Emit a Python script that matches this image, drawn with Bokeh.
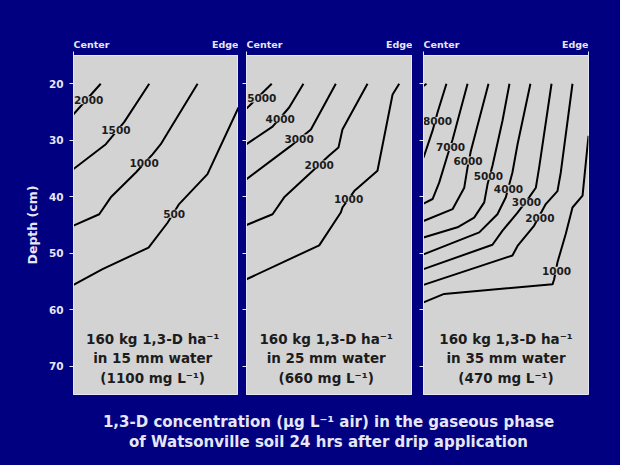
from bokeh.plotting import figure
from bokeh.models import Range1d, FixedTicker
from bokeh.layouts import row, column
from bokeh.embed import file_html
from bokeh.resources import INLINE
from bokeh.core.properties import value

BLUE = "#000080"
PANEL = "#d3d3d3"
LIGHT = "#e6e6f4"
INK = "#1c1c1c"
FONT = "DejaVu Sans"

# ---------------- data ----------------
depth_ticks = [20, 30, 40, 50, 60, 70]
x_side_labels = ["Center", "Edge"]
x_side_pos = [0, 1]

# Panel 1 : 15 mm water
p1_levels = ["2000", "1500", "1000", "500"]
p1_xs = [[0, 0.165],
         [0, 0.196, 0.307, 0.459],
         [0, 0.156, 0.226, 0.378, 0.479, 0.529, 0.570, 0.752],
         [0, 0.176, 0.455, 0.570, 0.640, 0.812, 1.0]]
p1_ys = [[25.4, 20.0],
         [35.1, 30.7, 26.8, 20.0],
         [45.1, 43.1, 40.1, 35.7, 32.5, 30.7, 28.7, 20.0],
         [55.6, 52.8, 49.0, 44.6, 41.3, 36.0, 24.2]]
p1_lab_x = [0.092, 0.257, 0.428, 0.61]
p1_lab_y = [22.9, 28.2, 34.0, 43.0]
p1_note = ["160 kg 1,3-D ha\u207b\u00b9", "in 15 mm water", "(1100 mg L\u207b\u00b9)"]

# Panel 2 : 25 mm water
p2_levels = ["5000", "4000", "3000", "2000", "1000"]
p2_xs = [[0, 0.152],
         [0, 0.157, 0.257, 0.343],
         [0, 0.267, 0.388, 0.538],
         [0, 0.157, 0.227, 0.388, 0.498, 0.554, 0.578, 0.729],
         [0, 0.438, 0.568, 0.578, 0.649, 0.789, 0.880, 0.920]]
p2_ys = [[24.4, 20.0],
         [30.7, 27.6, 24.2, 20.0],
         [36.9, 31.0, 28.1, 20.0],
         [45.0, 43.1, 40.1, 35.7, 32.7, 31.3, 28.1, 20.0],
         [54.6, 48.6, 42.8, 41.9, 39.0, 35.4, 21.9, 20.0]]
p2_lab_x = [0.092, 0.203, 0.317, 0.438, 0.615]
p2_lab_y = [22.6, 26.2, 29.7, 34.3, 40.4]
p2_note = ["160 kg 1,3-D ha\u207b\u00b9", "in 25 mm water", "(660 mg L\u207b\u00b9)"]

# Panel 3 : 35 mm water (first, unlabelled contour only clips the corner)
p3_levels = ["", "8000", "7000", "6000", "5000", "4000", "3000", "2000", "1000"]
p3_xs = [[0, 0.018],
         [0, 0.055, 0.085, 0.139],
         [0, 0.055, 0.095, 0.145, 0.176, 0.267],
         [0, 0.176, 0.247, 0.267, 0.287, 0.394],
         [0, 0.206, 0.307, 0.368, 0.388, 0.418, 0.479, 0.521],
         [0, 0.338, 0.448, 0.499, 0.539, 0.570, 0.648],
         [0, 0.418, 0.479, 0.570, 0.640, 0.681, 0.701, 0.776],
         [0, 0.539, 0.570, 0.671, 0.741, 0.812, 0.832, 0.903],
         [0, 0.125, 0.782, 0.792, 0.812, 0.862, 0.903, 0.964, 1.0]]
p3_ys = [[20.4, 20.0],
         [33.1, 28.3, 25.1, 20.0],
         [41.2, 40.4, 37.5, 32.7, 29.9, 20.0],
         [44.3, 42.2, 38.4, 34.8, 31.9, 20.0],
         [47.2, 45.4, 43.7, 41.0, 37.8, 34.5, 26.5, 20.0],
         [50.2, 46.3, 43.1, 40.1, 35.7, 30.7, 20.0],
         [52.8, 48.5, 46.0, 42.8, 40.1, 38.4, 34.8, 20.0],
         [55.6, 50.4, 48.7, 45.1, 41.3, 39.0, 35.7, 20.0],
         [58.7, 57.2, 55.5, 54.6, 51.6, 46.6, 41.9, 39.8, 29.2]]
p3_lab_x = [0.0, 0.085, 0.164, 0.27, 0.393, 0.515, 0.624, 0.705, 0.806]
p3_lab_y = [20.0, 26.6, 31.2, 33.6, 36.3, 38.6, 41.0, 43.7, 53.1]
p3_note = ["160 kg 1,3-D ha\u207b\u00b9", "in 35 mm water", "(470 mg L\u207b\u00b9)"]

note_depths = [65.1, 68.5, 72.1]
caption = ["1,3-D concentration (\u03bcg L\u207b\u00b9 air) in the gaseous phase",
           "of Watsonville soil 24 hrs after drip application"]

PANEL_TOP = 4
PANEL_BOTTOM = 11
FRAME_H = 339
STRIP_H = 51


def hide_labels(axis):
    axis.major_label_text_color = None
    axis.major_label_text_font_size = "0px"
    axis.major_label_standoff = 0


def make_strip(frame_w, left, right):
    s = figure(width=left + frame_w + right, height=STRIP_H,
               x_range=Range1d(0, 1), y_range=Range1d(0, STRIP_H),
               x_axis_type=None, y_axis_type=None,
               output_backend="svg", toolbar_location=None,
               min_border_left=left, min_border_right=right,
               min_border_top=0, min_border_bottom=0)
    s.background_fill_color = BLUE
    s.border_fill_color = BLUE
    s.outline_line_color = None
    s.grid.visible = False
    s.text(x=x_side_pos, y=[1.5, 1.5], text=x_side_labels,
           text_align=["left", "right"], text_baseline="bottom",
           text_font=value(FONT), text_font_style="bold",
           text_font_size="9.5px", text_color=LIGHT)
    return s


def make_panel(levels, xs, ys, lab_x, lab_y, note, note_x, frame_w,
               left, right, first):
    p = figure(width=left + frame_w + right,
               height=PANEL_TOP + FRAME_H + PANEL_BOTTOM,
               x_range=Range1d(0, 1), y_range=Range1d(75, 15),
               x_axis_location="above", output_backend="svg",
               toolbar_location=None, min_border_left=left,
               min_border_right=right, min_border_top=PANEL_TOP,
               min_border_bottom=PANEL_BOTTOM)
    p.background_fill_color = PANEL
    p.border_fill_color = BLUE
    p.outline_line_color = LIGHT
    p.outline_line_width = 1
    p.grid.visible = False

    xa = p.xaxis[0]
    xa.ticker = FixedTicker(ticks=x_side_pos)
    hide_labels(xa)
    xa.major_tick_out = 4
    xa.major_tick_in = 0
    xa.minor_tick_line_color = None
    xa.axis_line_color = LIGHT
    xa.major_tick_line_color = LIGHT

    ya = p.yaxis[0]
    ya.ticker = FixedTicker(ticks=depth_ticks)
    ya.major_tick_out = 4
    ya.major_tick_in = 0
    ya.minor_tick_line_color = None
    ya.axis_line_color = LIGHT
    ya.major_tick_line_color = LIGHT
    if first:
        ya.major_label_text_font = FONT
        ya.major_label_text_font_style = "bold"
        ya.major_label_text_font_size = "10.5px"
        ya.major_label_text_color = LIGHT
        ya.major_label_standoff = 6
        ya.axis_label = "Depth (cm)"
        ya.axis_label_text_font = FONT
        ya.axis_label_text_font_style = "bold"
        ya.axis_label_text_font_size = "12.5px"
        ya.axis_label_text_color = LIGHT
        ya.axis_label_standoff = 6
    else:
        hide_labels(ya)

    p.multi_line(xs=xs, ys=ys, line_color="black", line_width=2)
    keep = [i for i, t in enumerate(levels) if t]
    p.text(x=[lab_x[i] for i in keep], y=[lab_y[i] for i in keep],
           text=[levels[i] for i in keep], text_align="center",
           text_baseline="middle", text_font=value(FONT),
           text_font_style="bold", text_font_size="10.5px",
           text_color=INK, background_fill_color=PANEL)
    p.text(x=[note_x] * len(note), y=note_depths, text=note,
           text_align="center", text_baseline="middle",
           text_font=value(FONT), text_font_style="bold",
           text_font_size="13.5px", text_color=INK)
    return p


specs = [(165, 73, 0), (166, 8, 0), (165, 11, 32)]
strips = [make_strip(*sp) for sp in specs]

f1 = make_panel(p1_levels, p1_xs, p1_ys, p1_lab_x, p1_lab_y, p1_note, 0.48,
                *specs[0], True)
f2 = make_panel(p2_levels, p2_xs, p2_ys, p2_lab_x, p2_lab_y, p2_note, 0.48,
                *specs[1], False)
f3 = make_panel(p3_levels, p3_xs, p3_ys, p3_lab_x, p3_lab_y, p3_note, 0.5,
                *specs[2], False)

cap = figure(width=620, height=60, x_range=Range1d(0, 620),
             y_range=Range1d(60, 0), x_axis_type=None, y_axis_type=None,
             output_backend="svg", toolbar_location=None, min_border=0)
cap.background_fill_color = BLUE
cap.border_fill_color = BLUE
cap.outline_line_color = None
cap.grid.visible = False
cap.text(x=[328, 328], y=[16, 36], text=caption, text_align="center",
         text_baseline="middle", text_font=value(FONT),
         text_font_style="bold", text_font_size="15px", text_color=LIGHT)

bg = {"background-color": BLUE}
layout = column(row(*strips, styles=bg), row(f1, f2, f3, styles=bg), cap,
                styles=bg)
open("out.html", "w").write(file_html(layout, INLINE))
